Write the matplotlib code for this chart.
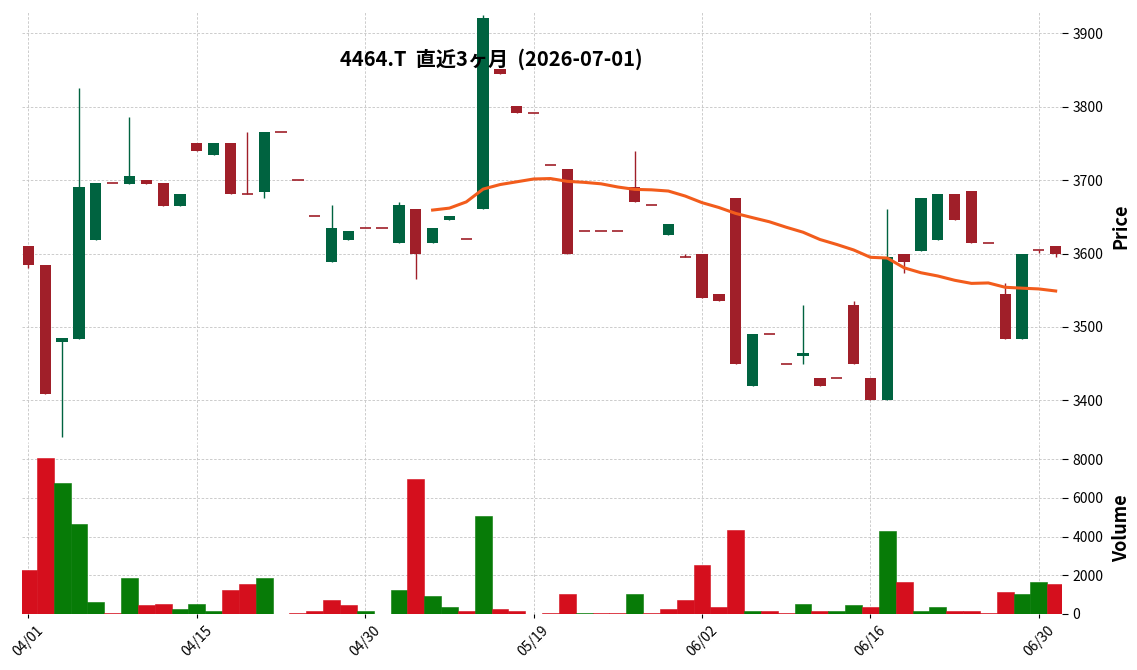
import matplotlib
matplotlib.use('Agg')
from matplotlib import pyplot as plt
import numpy as np
import pandas as pd

plt.rcParams['font.family'] = ['Noto Sans CJK JP', 'DejaVu Sans']

title = '4464.T  直近3ヶ月  (2026-07-01)'

# trading days (JP holidays removed)
holidays = ['2026-04-29', '2026-05-04', '2026-05-05', '2026-05-06']
dates = pd.bdate_range('2026-04-01', '2026-07-01').drop(pd.to_datetime(holidays))

opens = [3610, 3585, 3479, 3484, 3619, 3696, 3695, 3700, 3696, 3665,
         3751, 3734, 3751, 3681, 3684, 3765, 3700, 3651, 3589, 3619,
         3635, 3635, 3615, 3661, 3615, 3645, 3620, 3660, 3851, 3801,
         3791, 3721, 3715, 3631, 3631, 3631, 3690, 3666, 3625, 3595,
         3600, 3545, 3676, 3419, 3491, 3449, 3460, 3431, 3430, 3530,
         3431, 3400, 3600, 3604, 3619, 3681, 3685, 3615, 3545, 3484,
         3605, 3610]
highs = [3610, 3585, 3485, 3825, 3696, 3696, 3786, 3700, 3696, 3681,
         3751, 3751, 3751, 3765, 3766, 3765, 3700, 3651, 3666, 3631,
         3635, 3635, 3670, 3661, 3635, 3651, 3620, 3925, 3851, 3801,
         3791, 3721, 3715, 3631, 3631, 3631, 3740, 3666, 3640, 3600,
         3600, 3545, 3676, 3491, 3491, 3449, 3530, 3431, 3430, 3535,
         3431, 3660, 3600, 3676, 3681, 3681, 3685, 3615, 3560, 3600,
         3605, 3610]
lows = [3580, 3408, 3350, 3484, 3619, 3696, 3695, 3695, 3665, 3665,
        3740, 3734, 3681, 3681, 3675, 3765, 3700, 3651, 3589, 3619,
        3635, 3635, 3615, 3565, 3615, 3645, 3620, 3660, 3845, 3791,
        3791, 3721, 3600, 3631, 3631, 3631, 3670, 3666, 3625, 3595,
        3540, 3535, 3449, 3419, 3491, 3449, 3449, 3419, 3430, 3449,
        3400, 3400, 3574, 3604, 3619, 3645, 3615, 3615, 3484, 3484,
        3601, 3595]
closes = [3585, 3408, 3485, 3691, 3696, 3696, 3706, 3695, 3665, 3681,
          3740, 3751, 3681, 3681, 3766, 3765, 3700, 3651, 3635, 3631,
          3635, 3635, 3666, 3600, 3635, 3651, 3620, 3921, 3845, 3791,
          3791, 3721, 3600, 3631, 3631, 3631, 3670, 3666, 3640, 3595,
          3540, 3535, 3449, 3491, 3491, 3449, 3465, 3419, 3430, 3449,
          3400, 3595, 3589, 3676, 3681, 3645, 3615, 3615, 3484, 3600,
          3605, 3600]
volumes = [2250, 8070, 6780, 4660, 640, 60, 1880, 480, 530, 280,
           530, 170, 1260, 1570, 1880, 0, 70, 170, 740, 480,
           170, 0, 1260, 6980, 950, 380, 170, 5070, 280, 170,
           0, 70, 1050, 70, 70, 70, 1050, 70, 280, 740,
           2550, 380, 4360, 170, 170, 70, 530, 170, 170, 480,
           380, 4260, 1670, 170, 380, 170, 170, 70, 1160, 1050,
           1670, 1570]

df = pd.DataFrame({'Open': opens, 'High': highs, 'Low': lows,
                   'Close': closes, 'Volume': volumes}, index=dates)
df['MA25'] = df['Close'].rolling(25).mean()

c_up, c_dn = '#006340', '#a01f29'
v_up, v_dn = '#077b07', '#d50f1d'
grid_kw = dict(color='#c4c4c4', linestyle=(0, (3, 2)), linewidth=0.6)

fig = plt.figure(figsize=(11.37, 6.70), dpi=100)
ax = fig.add_axes([0.0194, 0.3433, 0.9147, 0.6388])
axv = fig.add_axes([0.0194, 0.0836, 0.9147, 0.2573], sharex=ax)

x = np.arange(len(df))
o, h, l, c = df['Open'].values, df['High'].values, df['Low'].values, df['Close'].values
up = c > o
ccol = np.where(up, c_up, c_dn)
w = 0.67

ax.vlines(x, l, h, colors=ccol, linewidth=1.0, zorder=2)
body = np.abs(c - o)
ax.bar(x[body > 0], body[body > 0], bottom=np.minimum(o, c)[body > 0], width=w,
       color=ccol[body > 0], linewidth=0, zorder=3)
flat = body == 0
ax.hlines(c[flat], x[flat] - w / 2, x[flat] + w / 2, colors=ccol[flat], linewidth=1.2, zorder=3)
ax.plot(x, df['MA25'].values, color='#f25c1c', linewidth=2.2, zorder=4)

prev = np.r_[np.inf, c[:-1]]
vcol = np.where(c > prev, v_up, v_dn)
axv.bar(x, df['Volume'].values, width=1.0, color=vcol, linewidth=0.4, edgecolor=vcol, zorder=3)

ax.set_xlim(-0.38, len(df) - 1 + 0.38)
ax.set_ylim(3346, 3929)
axv.set_ylim(0, 8900)
ax.set_yticks([3400, 3500, 3600, 3700, 3800, 3900])
axv.set_yticks([0, 2000, 4000, 6000, 8000])

ticks = x[::10]
axv.set_xticks(ticks)
axv.set_xticklabels([d.strftime('%m/%d') for d in dates[::10]], rotation=45, ha='center', fontsize=10)
ax.tick_params(axis='x', labelbottom=False, length=0)

for a, lab in ((ax, 'Price'), (axv, 'Volume')):
    for s in a.spines.values():
        s.set_visible(False)
    a.yaxis.tick_right()
    a.yaxis.set_label_position('right')
    a.tick_params(axis='y', labelsize=10, length=4, direction='out')
    a.set_ylabel(lab, fontsize=13, fontweight='bold', labelpad=6)
    a.grid(True, **grid_kw)
    a.set_axisbelow(True)
axv.tick_params(axis='x', length=3)

fig.text(0.4318, 0.912, title, ha='center', va='center', fontsize=14.5, fontweight='bold')

fig.savefig('out.png', dpi=100)
